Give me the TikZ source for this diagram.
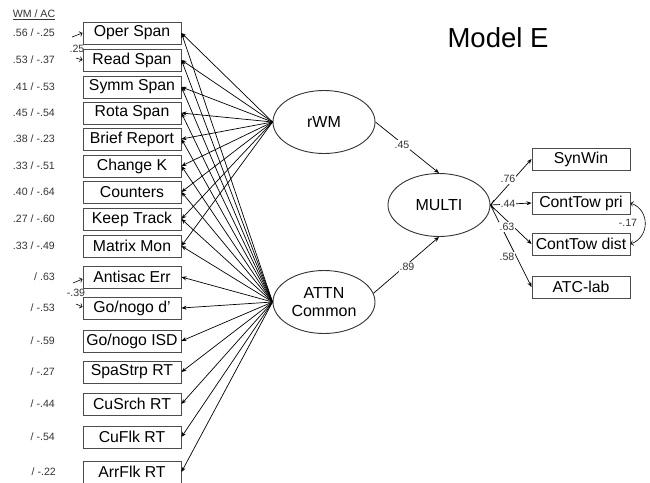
\documentclass[tikz,border=0pt]{standalone}
\usepackage{fontspec}
\setmainfont{Liberation Sans}
\usepackage{tikz}
\usetikzlibrary{
    shapes.geometric,
    arrows.meta,
    positioning
}
\tikzstyle{obsbox} = [
    draw=black!70,
    line width=0.9pt,
    minimum width=98pt,
    minimum height=22pt,
    inner sep=0pt,
    font=\fontsize{15.8}{17}\selectfont
]
\tikzstyle{latent} = [
    draw=black!80,
    ellipse,
    line width=0.9pt,
    minimum width=102pt,
    minimum height=63pt,
    inner sep=0pt,
    align=center,
    font=\fontsize{16}{18}\selectfont
]
\tikzstyle{arrow} = [
    line width=0.7pt,
    -{Stealth[length=5pt,width=4pt]}
]
\tikzstyle{barb} = [
    line width=0.6pt,
    -{Straight Barb[length=2.5pt,width=5pt]}
]
\tikzstyle{coef} = [
    font=\fontsize{10.6}{12}\selectfont,
    text=black!80,
    inner sep=1pt
]

\begin{document}
\begin{tikzpicture}[x=1pt, y=-1pt]
\useasboundingbox (0,0) rectangle (650,482);

% header and title
\node[coef] (hdr) at (34,15) {\underline{WM / AC}};
\node[font=\fontsize{27.5}{30}\selectfont] (title) at (498,38) {Model E};

% indicators
\node[obsbox] (oper)    at (132,33)  {Oper Span};
\node[obsbox] (read)    at (132,60)  {Read Span};
\node[obsbox] (symm)    at (132,87)  {Symm Span};
\node[obsbox] (rota)    at (132,113) {Rota Span};
\node[obsbox] (brief)   at (132,139) {Brief Report};
\node[obsbox] (changek) at (132,166) {Change K};
\node[obsbox] (counter) at (132,192) {Counters};
\node[obsbox] (keep)    at (132,219) {Keep Track};
\node[obsbox] (matrix)  at (132,246) {Matrix Mon};
\node[obsbox] (antisac) at (132,277) {Antisac Err};
\node[obsbox] (gnd)     at (132,308) {Go/nogo d’};
\node[obsbox] (gnisd)   at (132,341) {Go/nogo ISD};
\node[obsbox] (spastrp) at (132,372) {SpaStrp RT};
\node[obsbox] (cusrch)  at (132,404) {CuSrch RT};
\node[obsbox] (cuflk)   at (132,437) {CuFlk RT};
\node[obsbox] (arrflk)  at (132,472) {ArrFlk RT};

% loadings WM / AC
\node[coef, anchor=east] (l1)  at (56,33)  {.56 / -.25};
\node[coef, anchor=east] (l2)  at (56,60)  {.53 / -.37};
\node[coef, anchor=east] (l3)  at (56,87)  {.41 / -.53};
\node[coef, anchor=east] (l4)  at (56,113) {.45 / -.54};
\node[coef, anchor=east] (l5)  at (56,139) {.38 / -.23};
\node[coef, anchor=east] (l6)  at (56,166) {.33 / -.51};
\node[coef, anchor=east] (l7)  at (56,192) {.40 / -.64};
\node[coef, anchor=east] (l8)  at (56,219) {.27 / -.60};
\node[coef, anchor=east] (l9)  at (56,246) {.33 / -.49};
\node[coef, anchor=east] (l10) at (56,277) {/ .63};
\node[coef, anchor=east] (l11) at (56,308) {/ -.53};
\node[coef, anchor=east] (l12) at (56,341) {/ -.59};
\node[coef, anchor=east] (l13) at (56,372) {/ -.27};
\node[coef, anchor=east] (l14) at (56,404) {/ -.44};
\node[coef, anchor=east] (l15) at (56,437) {/ -.54};
\node[coef, anchor=east] (l16) at (57,472) {/ -.22};

% residual covariances (left)
\coordinate (r1) at (72,37);
\coordinate (r2) at (76,58);
\coordinate (r3) at (73,283);
\coordinate (r4) at (76,304);
\draw[barb] (r1) -- (oper.west);
\draw[barb] (r2) -- (read.west);
\draw[barb] (r3) -- ([yshift=-2pt]antisac.west);
\draw[barb] (r4) -- ([yshift=1pt]gnd.west);
\node[coef] (c1) at (77,49)  {.25};
\node[coef] (c2) at (76,293) {-.39};

% factors
\node[latent] (rwm)   at (324,122) {rWM};
\node[latent] (attn)  at (324,302) {ATTN\\Common};
\node[latent] (multi) at (439,205) {MULTI};

\foreach \b in {oper,read,symm,rota,brief,changek,counter,keep,matrix}
    \draw[arrow] (rwm.west) -- (\b.east);
\foreach \b in {oper,read,symm,rota,brief,changek,counter,keep,matrix,
    antisac,gnd,gnisd,spastrp,cusrch,cuflk,arrflk}
    \draw[arrow] (attn.west) -- (\b.east);

% structural paths
\draw[arrow] (rwm.east) -- (multi.north);
\draw[arrow] (attn.10) -- (multi.south);
\node[coef, fill=white] (p1) at (402,145) {.45};
\node[coef, fill=white] (p2) at (407,267) {.89};

% outcomes
\node[obsbox] (synwin) at (581,159) {SynWin};
\node[obsbox] (ctpri)  at (581,203) {ContTow pri};
\node[obsbox] (ctdist) at (581,244) {ContTow dist};
\node[obsbox] (atc)    at (581,287) {ATC-lab};

\draw[arrow] (multi.east) -- (synwin.west);
\draw[line width=0.7pt, {Straight Barb[length=3pt,width=9pt]}-{Stealth[length=5pt,width=4pt]}]
    (multi.east) -- (ctpri.west);
\draw[arrow] (multi.east) -- (ctdist.west);
\draw[arrow] (multi.east) -- (atc.west);
\node[coef, fill=white] (m1) at (508,179) {.76};
\node[coef, fill=white] (m2) at (508,204) {.44};
\node[coef, fill=white] (m3) at (507,227) {.63};
\node[coef, fill=white] (m4) at (507,257) {.58};

% residual covariance (right)
\draw[line width=0.6pt, {Straight Barb[length=2.5pt,width=5pt]}-{Straight Barb[length=2.5pt,width=5pt]}]
    (ctpri.east) .. controls (650,210) and (650,237) .. (ctdist.east);
\node[coef, fill=white] (c3) at (628,223) {-.17};
\end{tikzpicture}
\end{document}
